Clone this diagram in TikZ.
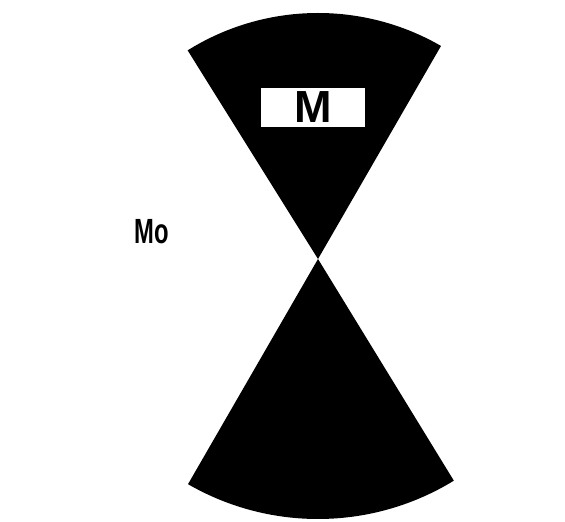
\documentclass[tikz,border=0pt]{standalone}
\usepackage{fontspec}
\setmainfont{Liberation Sans}
\begin{document}
\begin{tikzpicture}[x=1pt,y=1pt,
  sector/.style={fill=black},
  lbl/.style={font=\bfseries\fontsize{45}{45}\selectfont, inner sep=0pt},
  sidelbl/.style={font=\bfseries\fontsize{35}{35}\selectfont, inner sep=0pt, xscale=0.68}]
\useasboundingbox (0,0) rectangle (565,522);
\coordinate (C) at (318,263);
\fill[sector] (C) -- ++(60:246pt) arc[start angle=60,end angle=122,radius=246pt] -- cycle;
\fill[sector] (C) -- ++(-120:260pt) arc[start angle=-120,end angle=-58.5,radius=260pt] -- cycle;
\node[fill=white, minimum width=104pt, minimum height=39pt, inner sep=0pt] (box) at (313,414.5) {};
\node[lbl] (m) at (box) {M};
\node[sidelbl] (mo) at (152,290) {Mo};
\end{tikzpicture}
\end{document}
